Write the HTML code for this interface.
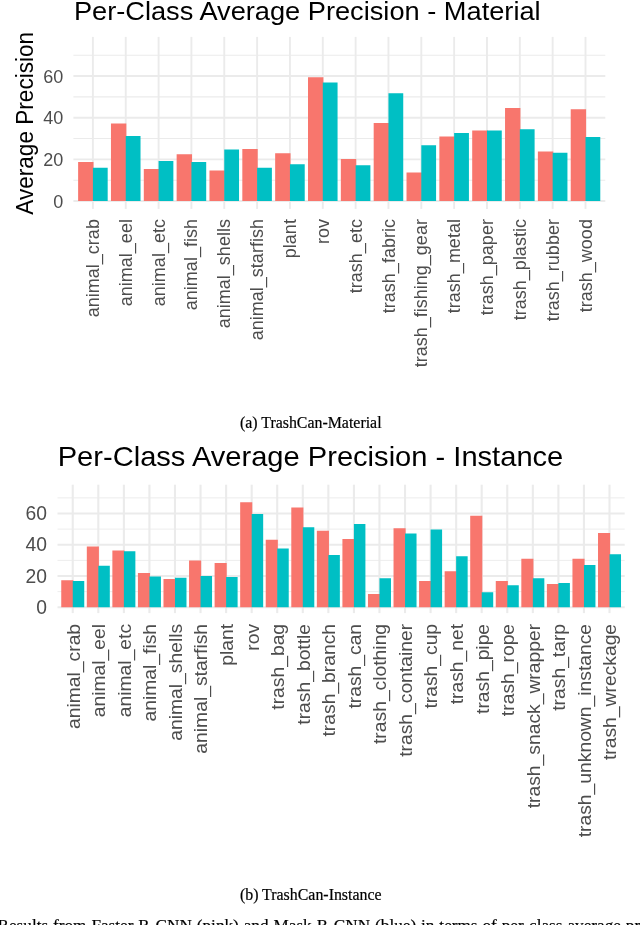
<!DOCTYPE html>
<html lang="en">
<head>
<meta charset="utf-8">
<title>Per-Class Average Precision</title>
<style>
html,body{margin:0;padding:0;background:#fff;}
body{width:640px;height:925px;overflow:hidden;position:relative;}
svg{position:absolute;left:0;top:0;display:block;}
svg text{font-family:"Liberation Sans",sans-serif;}
svg text.cap{font-family:"Liberation Serif",serif;stroke:#000;stroke-width:0.2px;}
</style>
</head>
<body>
<svg width="640" height="925" viewBox="0 0 640 925">
<rect width="640" height="925" fill="#fff"/>
<g id="chart-material">
<line x1="73.4" x2="605.3" y1="180.17" y2="180.17" stroke="#EBEBEB" stroke-width="1.05"/>
<line x1="73.4" x2="605.3" y1="138.51" y2="138.51" stroke="#EBEBEB" stroke-width="1.05"/>
<line x1="73.4" x2="605.3" y1="96.85" y2="96.85" stroke="#EBEBEB" stroke-width="1.05"/>
<line x1="73.4" x2="605.3" y1="55.19" y2="55.19" stroke="#EBEBEB" stroke-width="1.05"/>
<line x1="73.4" x2="605.3" y1="201.00" y2="201.00" stroke="#EBEBEB" stroke-width="1.9"/>
<line x1="73.4" x2="605.3" y1="159.34" y2="159.34" stroke="#EBEBEB" stroke-width="1.9"/>
<line x1="73.4" x2="605.3" y1="117.68" y2="117.68" stroke="#EBEBEB" stroke-width="1.9"/>
<line x1="73.4" x2="605.3" y1="76.02" y2="76.02" stroke="#EBEBEB" stroke-width="1.9"/>
<line x1="92.90" x2="92.90" y1="36.9" y2="208.9" stroke="#EBEBEB" stroke-width="1.9"/>
<line x1="125.74" x2="125.74" y1="36.9" y2="208.9" stroke="#EBEBEB" stroke-width="1.9"/>
<line x1="158.58" x2="158.58" y1="36.9" y2="208.9" stroke="#EBEBEB" stroke-width="1.9"/>
<line x1="191.42" x2="191.42" y1="36.9" y2="208.9" stroke="#EBEBEB" stroke-width="1.9"/>
<line x1="224.26" x2="224.26" y1="36.9" y2="208.9" stroke="#EBEBEB" stroke-width="1.9"/>
<line x1="257.10" x2="257.10" y1="36.9" y2="208.9" stroke="#EBEBEB" stroke-width="1.9"/>
<line x1="289.94" x2="289.94" y1="36.9" y2="208.9" stroke="#EBEBEB" stroke-width="1.9"/>
<line x1="322.78" x2="322.78" y1="36.9" y2="208.9" stroke="#EBEBEB" stroke-width="1.9"/>
<line x1="355.62" x2="355.62" y1="36.9" y2="208.9" stroke="#EBEBEB" stroke-width="1.9"/>
<line x1="388.46" x2="388.46" y1="36.9" y2="208.9" stroke="#EBEBEB" stroke-width="1.9"/>
<line x1="421.30" x2="421.30" y1="36.9" y2="208.9" stroke="#EBEBEB" stroke-width="1.9"/>
<line x1="454.14" x2="454.14" y1="36.9" y2="208.9" stroke="#EBEBEB" stroke-width="1.9"/>
<line x1="486.98" x2="486.98" y1="36.9" y2="208.9" stroke="#EBEBEB" stroke-width="1.9"/>
<line x1="519.82" x2="519.82" y1="36.9" y2="208.9" stroke="#EBEBEB" stroke-width="1.9"/>
<line x1="552.66" x2="552.66" y1="36.9" y2="208.9" stroke="#EBEBEB" stroke-width="1.9"/>
<line x1="585.50" x2="585.50" y1="36.9" y2="208.9" stroke="#EBEBEB" stroke-width="1.9"/>
<rect x="78.12" y="162.00" width="15.38" height="39.00" fill="#F8766D"/>
<rect x="92.90" y="167.75" width="14.78" height="33.25" fill="#00BFC4"/>
<rect x="110.96" y="123.50" width="15.38" height="77.50" fill="#F8766D"/>
<rect x="125.74" y="136.00" width="14.78" height="65.00" fill="#00BFC4"/>
<rect x="143.80" y="169.00" width="15.38" height="32.00" fill="#F8766D"/>
<rect x="158.58" y="161.00" width="14.78" height="40.00" fill="#00BFC4"/>
<rect x="176.64" y="154.25" width="15.38" height="46.75" fill="#F8766D"/>
<rect x="191.42" y="162.00" width="14.78" height="39.00" fill="#00BFC4"/>
<rect x="209.48" y="170.50" width="15.38" height="30.50" fill="#F8766D"/>
<rect x="224.26" y="149.50" width="14.78" height="51.50" fill="#00BFC4"/>
<rect x="242.32" y="149.00" width="15.38" height="52.00" fill="#F8766D"/>
<rect x="257.10" y="167.75" width="14.78" height="33.25" fill="#00BFC4"/>
<rect x="275.16" y="153.25" width="15.38" height="47.75" fill="#F8766D"/>
<rect x="289.94" y="164.25" width="14.78" height="36.75" fill="#00BFC4"/>
<rect x="308.00" y="77.25" width="15.38" height="123.75" fill="#F8766D"/>
<rect x="322.78" y="82.50" width="14.78" height="118.50" fill="#00BFC4"/>
<rect x="340.84" y="159.00" width="15.38" height="42.00" fill="#F8766D"/>
<rect x="355.62" y="165.25" width="14.78" height="35.75" fill="#00BFC4"/>
<rect x="373.68" y="123.00" width="15.38" height="78.00" fill="#F8766D"/>
<rect x="388.46" y="93.25" width="14.78" height="107.75" fill="#00BFC4"/>
<rect x="406.52" y="172.50" width="15.38" height="28.50" fill="#F8766D"/>
<rect x="421.30" y="145.25" width="14.78" height="55.75" fill="#00BFC4"/>
<rect x="439.36" y="136.50" width="15.38" height="64.50" fill="#F8766D"/>
<rect x="454.14" y="133.00" width="14.78" height="68.00" fill="#00BFC4"/>
<rect x="472.20" y="130.50" width="15.38" height="70.50" fill="#F8766D"/>
<rect x="486.98" y="130.50" width="14.78" height="70.50" fill="#00BFC4"/>
<rect x="505.04" y="108.00" width="15.38" height="93.00" fill="#F8766D"/>
<rect x="519.82" y="129.25" width="14.78" height="71.75" fill="#00BFC4"/>
<rect x="537.88" y="151.50" width="15.38" height="49.50" fill="#F8766D"/>
<rect x="552.66" y="152.75" width="14.78" height="48.25" fill="#00BFC4"/>
<rect x="570.72" y="109.25" width="15.38" height="91.75" fill="#F8766D"/>
<rect x="585.50" y="137.00" width="14.78" height="64.00" fill="#00BFC4"/>
<text x="63.3" y="207.60" text-anchor="end" font-size="18.0" fill="#4D4D4D">0</text>
<text x="63.3" y="165.94" text-anchor="end" font-size="18.0" fill="#4D4D4D">20</text>
<text x="63.3" y="124.28" text-anchor="end" font-size="18.0" fill="#4D4D4D">40</text>
<text x="63.3" y="82.62" text-anchor="end" font-size="18.0" fill="#4D4D4D">60</text>
<text transform="translate(98.95,219.1) rotate(-90) scale(1,1.0)" text-anchor="end" font-size="18.0" fill="#4D4D4D">animal_crab</text>
<text transform="translate(131.79,219.1) rotate(-90) scale(1,1.0)" text-anchor="end" font-size="18.0" fill="#4D4D4D">animal_eel</text>
<text transform="translate(164.63,219.1) rotate(-90) scale(1,1.0)" text-anchor="end" font-size="18.0" fill="#4D4D4D">animal_etc</text>
<text transform="translate(197.47,219.1) rotate(-90) scale(1,1.0)" text-anchor="end" font-size="18.0" fill="#4D4D4D">animal_fish</text>
<text transform="translate(230.31,219.1) rotate(-90) scale(1,1.0)" text-anchor="end" font-size="18.0" fill="#4D4D4D">animal_shells</text>
<text transform="translate(263.15,219.1) rotate(-90) scale(1,1.0)" text-anchor="end" font-size="18.0" fill="#4D4D4D">animal_starfish</text>
<text transform="translate(295.99,219.1) rotate(-90) scale(1,1.0)" text-anchor="end" font-size="18.0" fill="#4D4D4D">plant</text>
<text transform="translate(328.83,219.1) rotate(-90) scale(1,1.0)" text-anchor="end" font-size="18.0" fill="#4D4D4D">rov</text>
<text transform="translate(361.67,219.1) rotate(-90) scale(1,1.0)" text-anchor="end" font-size="18.0" fill="#4D4D4D">trash_etc</text>
<text transform="translate(394.51,219.1) rotate(-90) scale(1,1.0)" text-anchor="end" font-size="18.0" fill="#4D4D4D">trash_fabric</text>
<text transform="translate(427.35,219.1) rotate(-90) scale(1,1.0)" text-anchor="end" font-size="18.0" fill="#4D4D4D">trash_fishing_gear</text>
<text transform="translate(460.19,219.1) rotate(-90) scale(1,1.0)" text-anchor="end" font-size="18.0" fill="#4D4D4D">trash_metal</text>
<text transform="translate(493.03,219.1) rotate(-90) scale(1,1.0)" text-anchor="end" font-size="18.0" fill="#4D4D4D">trash_paper</text>
<text transform="translate(525.87,219.1) rotate(-90) scale(1,1.0)" text-anchor="end" font-size="18.0" fill="#4D4D4D">trash_plastic</text>
<text transform="translate(558.71,219.1) rotate(-90) scale(1,1.0)" text-anchor="end" font-size="18.0" fill="#4D4D4D">trash_rubber</text>
<text transform="translate(591.55,219.1) rotate(-90) scale(1,1.0)" text-anchor="end" font-size="18.0" fill="#4D4D4D">trash_wood</text>
<text transform="translate(73.9,20.2) scale(1,0.965)" font-size="27.22" fill="#000">Per-Class Average Precision - Material</text>
<text transform="translate(33.2,123.3) rotate(-90) scale(1,1.02)" text-anchor="middle" font-size="22.6" fill="#000">Average Precision</text>
</g>
<text class="cap" x="310.75" y="428.2" text-anchor="middle" font-size="15.9" fill="#000">(a) TrashCan-Material</text>
<g id="chart-instance">
<line x1="57.5" x2="624.7" y1="591.62" y2="591.62" stroke="#EBEBEB" stroke-width="0.9"/>
<line x1="57.5" x2="624.7" y1="560.38" y2="560.38" stroke="#EBEBEB" stroke-width="0.9"/>
<line x1="57.5" x2="624.7" y1="529.12" y2="529.12" stroke="#EBEBEB" stroke-width="0.9"/>
<line x1="57.5" x2="624.7" y1="497.88" y2="497.88" stroke="#EBEBEB" stroke-width="0.9"/>
<line x1="57.5" x2="624.7" y1="607.25" y2="607.25" stroke="#EBEBEB" stroke-width="1.8"/>
<line x1="57.5" x2="624.7" y1="576.00" y2="576.00" stroke="#EBEBEB" stroke-width="1.8"/>
<line x1="57.5" x2="624.7" y1="544.75" y2="544.75" stroke="#EBEBEB" stroke-width="1.8"/>
<line x1="57.5" x2="624.7" y1="513.50" y2="513.50" stroke="#EBEBEB" stroke-width="1.8"/>
<line x1="72.75" x2="72.75" y1="484.7" y2="613.1" stroke="#EBEBEB" stroke-width="2.1"/>
<line x1="98.31" x2="98.31" y1="484.7" y2="613.1" stroke="#EBEBEB" stroke-width="2.1"/>
<line x1="123.87" x2="123.87" y1="484.7" y2="613.1" stroke="#EBEBEB" stroke-width="2.1"/>
<line x1="149.43" x2="149.43" y1="484.7" y2="613.1" stroke="#EBEBEB" stroke-width="2.1"/>
<line x1="174.99" x2="174.99" y1="484.7" y2="613.1" stroke="#EBEBEB" stroke-width="2.1"/>
<line x1="200.55" x2="200.55" y1="484.7" y2="613.1" stroke="#EBEBEB" stroke-width="2.1"/>
<line x1="226.11" x2="226.11" y1="484.7" y2="613.1" stroke="#EBEBEB" stroke-width="2.1"/>
<line x1="251.67" x2="251.67" y1="484.7" y2="613.1" stroke="#EBEBEB" stroke-width="2.1"/>
<line x1="277.23" x2="277.23" y1="484.7" y2="613.1" stroke="#EBEBEB" stroke-width="2.1"/>
<line x1="302.79" x2="302.79" y1="484.7" y2="613.1" stroke="#EBEBEB" stroke-width="2.1"/>
<line x1="328.35" x2="328.35" y1="484.7" y2="613.1" stroke="#EBEBEB" stroke-width="2.1"/>
<line x1="353.91" x2="353.91" y1="484.7" y2="613.1" stroke="#EBEBEB" stroke-width="2.1"/>
<line x1="379.47" x2="379.47" y1="484.7" y2="613.1" stroke="#EBEBEB" stroke-width="2.1"/>
<line x1="405.03" x2="405.03" y1="484.7" y2="613.1" stroke="#EBEBEB" stroke-width="2.1"/>
<line x1="430.59" x2="430.59" y1="484.7" y2="613.1" stroke="#EBEBEB" stroke-width="2.1"/>
<line x1="456.15" x2="456.15" y1="484.7" y2="613.1" stroke="#EBEBEB" stroke-width="2.1"/>
<line x1="481.71" x2="481.71" y1="484.7" y2="613.1" stroke="#EBEBEB" stroke-width="2.1"/>
<line x1="507.27" x2="507.27" y1="484.7" y2="613.1" stroke="#EBEBEB" stroke-width="2.1"/>
<line x1="532.83" x2="532.83" y1="484.7" y2="613.1" stroke="#EBEBEB" stroke-width="2.1"/>
<line x1="558.39" x2="558.39" y1="484.7" y2="613.1" stroke="#EBEBEB" stroke-width="2.1"/>
<line x1="583.95" x2="583.95" y1="484.7" y2="613.1" stroke="#EBEBEB" stroke-width="2.1"/>
<line x1="609.51" x2="609.51" y1="484.7" y2="613.1" stroke="#EBEBEB" stroke-width="2.1"/>
<rect x="61.25" y="580.25" width="12.10" height="27.00" fill="#F8766D"/>
<rect x="72.75" y="581.00" width="11.50" height="26.25" fill="#00BFC4"/>
<rect x="86.81" y="546.50" width="12.10" height="60.75" fill="#F8766D"/>
<rect x="98.31" y="565.75" width="11.50" height="41.50" fill="#00BFC4"/>
<rect x="112.37" y="550.50" width="12.10" height="56.75" fill="#F8766D"/>
<rect x="123.87" y="551.25" width="11.50" height="56.00" fill="#00BFC4"/>
<rect x="137.93" y="573.00" width="12.10" height="34.25" fill="#F8766D"/>
<rect x="149.43" y="576.50" width="11.50" height="30.75" fill="#00BFC4"/>
<rect x="163.49" y="579.00" width="12.10" height="28.25" fill="#F8766D"/>
<rect x="174.99" y="577.75" width="11.50" height="29.50" fill="#00BFC4"/>
<rect x="189.05" y="560.50" width="12.10" height="46.75" fill="#F8766D"/>
<rect x="200.55" y="576.00" width="11.50" height="31.25" fill="#00BFC4"/>
<rect x="214.61" y="563.00" width="12.10" height="44.25" fill="#F8766D"/>
<rect x="226.11" y="577.00" width="11.50" height="30.25" fill="#00BFC4"/>
<rect x="240.17" y="502.25" width="12.10" height="105.00" fill="#F8766D"/>
<rect x="251.67" y="514.00" width="11.50" height="93.25" fill="#00BFC4"/>
<rect x="265.73" y="539.75" width="12.10" height="67.50" fill="#F8766D"/>
<rect x="277.23" y="548.50" width="11.50" height="58.75" fill="#00BFC4"/>
<rect x="291.29" y="507.50" width="12.10" height="99.75" fill="#F8766D"/>
<rect x="302.79" y="527.25" width="11.50" height="80.00" fill="#00BFC4"/>
<rect x="316.85" y="530.75" width="12.10" height="76.50" fill="#F8766D"/>
<rect x="328.35" y="555.00" width="11.50" height="52.25" fill="#00BFC4"/>
<rect x="342.41" y="539.00" width="12.10" height="68.25" fill="#F8766D"/>
<rect x="353.91" y="524.00" width="11.50" height="83.25" fill="#00BFC4"/>
<rect x="367.97" y="594.00" width="12.10" height="13.25" fill="#F8766D"/>
<rect x="379.47" y="578.25" width="11.50" height="29.00" fill="#00BFC4"/>
<rect x="393.53" y="528.25" width="12.10" height="79.00" fill="#F8766D"/>
<rect x="405.03" y="533.50" width="11.50" height="73.75" fill="#00BFC4"/>
<rect x="419.09" y="581.00" width="12.10" height="26.25" fill="#F8766D"/>
<rect x="430.59" y="529.50" width="11.50" height="77.75" fill="#00BFC4"/>
<rect x="444.65" y="571.25" width="12.10" height="36.00" fill="#F8766D"/>
<rect x="456.15" y="556.25" width="11.50" height="51.00" fill="#00BFC4"/>
<rect x="470.21" y="515.75" width="12.10" height="91.50" fill="#F8766D"/>
<rect x="481.71" y="592.25" width="11.50" height="15.00" fill="#00BFC4"/>
<rect x="495.77" y="581.00" width="12.10" height="26.25" fill="#F8766D"/>
<rect x="507.27" y="585.25" width="11.50" height="22.00" fill="#00BFC4"/>
<rect x="521.33" y="558.75" width="12.10" height="48.50" fill="#F8766D"/>
<rect x="532.83" y="578.25" width="11.50" height="29.00" fill="#00BFC4"/>
<rect x="546.89" y="584.00" width="12.10" height="23.25" fill="#F8766D"/>
<rect x="558.39" y="583.00" width="11.50" height="24.25" fill="#00BFC4"/>
<rect x="572.45" y="558.75" width="12.10" height="48.50" fill="#F8766D"/>
<rect x="583.95" y="565.00" width="11.50" height="42.25" fill="#00BFC4"/>
<rect x="598.01" y="533.00" width="12.10" height="74.25" fill="#F8766D"/>
<rect x="609.51" y="554.25" width="11.50" height="53.00" fill="#00BFC4"/>
<text x="47.0" y="613.95" text-anchor="end" font-size="19.3" fill="#4D4D4D">0</text>
<text x="47.0" y="582.70" text-anchor="end" font-size="19.3" fill="#4D4D4D">20</text>
<text x="47.0" y="551.45" text-anchor="end" font-size="19.3" fill="#4D4D4D">40</text>
<text x="47.0" y="520.20" text-anchor="end" font-size="19.3" fill="#4D4D4D">60</text>
<text transform="translate(79.60,623.9) rotate(-90) scale(1,0.95)" text-anchor="end" font-size="19.3" fill="#4D4D4D">animal_crab</text>
<text transform="translate(105.16,623.9) rotate(-90) scale(1,0.95)" text-anchor="end" font-size="19.3" fill="#4D4D4D">animal_eel</text>
<text transform="translate(130.72,623.9) rotate(-90) scale(1,0.95)" text-anchor="end" font-size="19.3" fill="#4D4D4D">animal_etc</text>
<text transform="translate(156.28,623.9) rotate(-90) scale(1,0.95)" text-anchor="end" font-size="19.3" fill="#4D4D4D">animal_fish</text>
<text transform="translate(181.84,623.9) rotate(-90) scale(1,0.95)" text-anchor="end" font-size="19.3" fill="#4D4D4D">animal_shells</text>
<text transform="translate(207.40,623.9) rotate(-90) scale(1,0.95)" text-anchor="end" font-size="19.3" fill="#4D4D4D">animal_starfish</text>
<text transform="translate(232.96,623.9) rotate(-90) scale(1,0.95)" text-anchor="end" font-size="19.3" fill="#4D4D4D">plant</text>
<text transform="translate(258.52,623.9) rotate(-90) scale(1,0.95)" text-anchor="end" font-size="19.3" fill="#4D4D4D">rov</text>
<text transform="translate(284.08,623.9) rotate(-90) scale(1,0.95)" text-anchor="end" font-size="19.3" fill="#4D4D4D">trash_bag</text>
<text transform="translate(309.64,623.9) rotate(-90) scale(1,0.95)" text-anchor="end" font-size="19.3" fill="#4D4D4D">trash_bottle</text>
<text transform="translate(335.20,623.9) rotate(-90) scale(1,0.95)" text-anchor="end" font-size="19.3" fill="#4D4D4D">trash_branch</text>
<text transform="translate(360.76,623.9) rotate(-90) scale(1,0.95)" text-anchor="end" font-size="19.3" fill="#4D4D4D">trash_can</text>
<text transform="translate(386.32,623.9) rotate(-90) scale(1,0.95)" text-anchor="end" font-size="19.3" fill="#4D4D4D">trash_clothing</text>
<text transform="translate(411.88,623.9) rotate(-90) scale(1,0.95)" text-anchor="end" font-size="19.3" fill="#4D4D4D">trash_container</text>
<text transform="translate(437.44,623.9) rotate(-90) scale(1,0.95)" text-anchor="end" font-size="19.3" fill="#4D4D4D">trash_cup</text>
<text transform="translate(463.00,623.9) rotate(-90) scale(1,0.95)" text-anchor="end" font-size="19.3" fill="#4D4D4D">trash_net</text>
<text transform="translate(488.56,623.9) rotate(-90) scale(1,0.95)" text-anchor="end" font-size="19.3" fill="#4D4D4D">trash_pipe</text>
<text transform="translate(514.12,623.9) rotate(-90) scale(1,0.95)" text-anchor="end" font-size="19.3" fill="#4D4D4D">trash_rope</text>
<text transform="translate(539.68,623.9) rotate(-90) scale(1,0.95)" text-anchor="end" font-size="19.3" fill="#4D4D4D">trash_snack_wrapper</text>
<text transform="translate(565.24,623.9) rotate(-90) scale(1,0.95)" text-anchor="end" font-size="19.3" fill="#4D4D4D">trash_tarp</text>
<text transform="translate(590.80,623.9) rotate(-90) scale(1,0.95)" text-anchor="end" font-size="19.3" fill="#4D4D4D">trash_unknown_instance</text>
<text transform="translate(616.36,623.9) rotate(-90) scale(1,0.95)" text-anchor="end" font-size="19.3" fill="#4D4D4D">trash_wreckage</text>
<text transform="translate(57.7,466.1) scale(1,0.95)" font-size="29.1" fill="#000">Per-Class Average Precision - Instance</text>
</g>
<text class="cap" x="310.75" y="899.5" text-anchor="middle" font-size="15.9" fill="#000">(b) TrashCan-Instance</text>
<text class="cap" x="-2.5" y="930.8" font-size="17.2" word-spacing="0.65" fill="#000">Results from Faster R-CNN (pink) and Mask R-CNN (blue) in terms of per-class average precision</text>
</svg>
</body>
</html>
